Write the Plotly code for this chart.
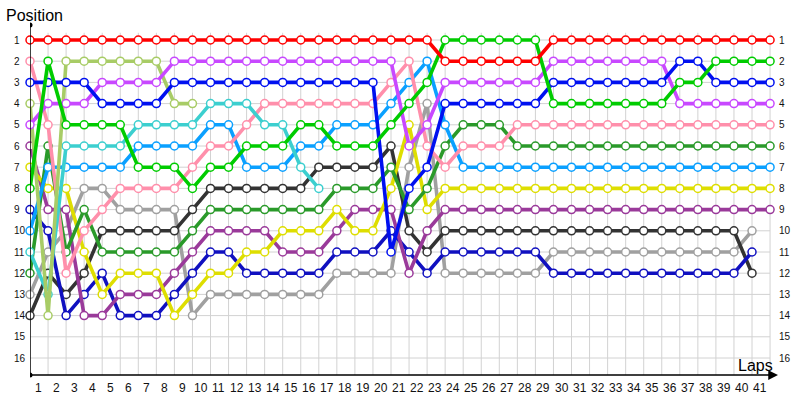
import plotly.graph_objects as go

# ---- data (position per lap, lap 0 = grid) ----
laps_all = list(range(0, 42))
lap_labels = [str(i) for i in range(1, 42)]
pos_labels = [str(i) for i in range(1, 17)]

red = [1, 1, 1, 1, 1, 1, 1, 1, 1, 1, 1, 1, 1, 1, 1, 1, 1, 1, 1, 1, 1, 1, 1,
       2, 2, 2, 2, 2, 2,
       1, 1, 1, 1, 1, 1, 1, 1, 1, 1, 1, 1, 1]
purple = [5, 4, 4, 4, 3, 3, 3, 3, 2, 2, 2, 2, 2, 2, 2, 2, 2, 2, 2, 2, 2, 6, 5,
          3, 3, 3, 3, 3, 3, 2, 2, 2, 2, 2, 2, 2, 4, 4, 4, 4, 4, 4]
blue = [3, 3, 3, 3, 4, 4, 4, 4, 3, 3, 3, 3, 3, 3, 3, 3, 3, 3, 3, 3, 11, 8, 7,
        4, 4, 4, 4, 4, 4, 3, 3, 3, 3, 3, 3, 3, 2, 2, 3, 3, 3, 3]
green = [8, 2, 5, 5, 5, 5, 7, 7, 7, 8, 7, 7, 6, 6, 6, 5, 5, 6, 6, 6, 5, 4, 3,
         1, 1, 1, 1, 1, 1, 4, 4, 4, 4, 4, 4, 4, 3, 3, 2, 2, 2, 2]
pink = [2, 5, 12, 10, 9, 8, 8, 8, 8, 7, 6, 6, 5, 4, 4, 4, 4, 4, 4, 4, 3, 2, 6,
        7, 6, 6, 6, 5, 5, 5, 5, 5, 5, 5, 5, 5, 5, 5, 5, 5, 5, 5]
dkgreen = [12, 6, 11, 9, 11, 11, 11, 11, 11, 10, 9, 9, 9, 9, 9, 9, 9, 8, 8, 8, 7, 9, 8,
           6, 5, 5, 5, 6, 6, 6, 6, 6, 6, 6, 6, 6, 6, 6, 6, 6, 6, 6]
sky = [10, 7, 7, 7, 7, 7, 6, 6, 6, 6, 5, 5, 7, 7, 7, 6, 6, 5, 5, 5, 4, 3, 2,
       5, 7, 7, 7, 7, 7, 7, 7, 7, 7, 7, 7, 7, 7, 7, 7, 7, 7, 7]
yellow = [7, 8, 8, 11, 13, 12, 12, 12, 14, 13, 12, 12, 11, 11, 10, 10, 10, 9, 10, 10, 8, 5, 9,
          8, 8, 8, 8, 8, 8, 8, 8, 8, 8, 8, 8, 8, 8, 8, 8, 8, 8, 8]
dkpurple = [6, 9, 9, 14, 14, 13, 13, 13, 12, 11, 10, 10, 10, 10, 11, 11, 11, 10, 9, 9, 9, 12, 10,
            9, 9, 9, 9, 9, 9, 9, 9, 9, 9, 9, 9, 9, 9, 9, 9, 9, 9, 9]
black = [14, 12, 13, 12, 10, 10, 10, 10, 10, 9, 8, 8, 8, 8, 8, 8, 7, 7, 7, 7, 6, 10, 11,
         10, 10, 10, 10, 10, 10, 10, 10, 10, 10, 10, 10, 10, 10, 10, 10, 10, 12]
gray = [13, 11, 10, 8, 8, 9, 9, 9, 9, 14, 13, 13, 13, 13, 13, 13, 13, 12, 12, 12, 12, 7, 4,
        12, 12, 12, 12, 12, 12, 11, 11, 11, 11, 11, 11, 11, 11, 11, 11, 11, 10]
dkblue = [9, 10, 14, 13, 12, 14, 14, 14, 13, 12, 11, 11, 12, 12, 12, 12, 12, 11, 11, 11, 10, 11, 12,
          11, 11, 11, 11, 11, 11, 12, 12, 12, 12, 12, 12, 12, 12, 12, 12, 12, 11]
olive = [4, 14, 2, 2, 2, 2, 2, 2, 4, 4]
cyan = [11, 13, 6, 6, 6, 6, 5, 5, 5, 5, 4, 4, 4, 5, 5, 7, 8]

series = [
    ("gray", gray, "#a0a0a0"),
    ("black", black, "#333333"),
    ("dkblue", dkblue, "#1010c0"),
    ("dkpurple", dkpurple, "#9a3a9a"),
    ("yellow", yellow, "#dede00"),
    ("dkgreen", dkgreen, "#2a9a2a"),
    ("sky", sky, "#0aa0ff"),
    ("pink", pink, "#ff8fab"),
    ("cyan", cyan, "#3ccfcf"),
    ("olive", olive, "#a8cc66"),
    ("purple", purple, "#c848ff"),
    ("blue", blue, "#0010f0"),
    ("green", green, "#00cc00"),
    ("red", red, "#ff0000"),
]

X_MAX = 41.44
Y_TOP = 0.2925
Y_BOT = 16.802
FONT = "Liberation Sans, Arial, sans-serif"

fig = go.Figure()

for name, vals, col in series:
    fig.add_trace(go.Scatter(
        x=laps_all[:len(vals)], y=vals, mode="lines+markers", name=name,
        line=dict(color=col, width=3.6),
        marker=dict(symbol="circle", size=8, color="white",
                    line=dict(color=col, width=1.5)),
        cliponaxis=False, hoverinfo="skip", showlegend=False,
    ))

shapes = []
# vertical grid
for k in range(1, 42):
    shapes.append(dict(type="line", xref="x", yref="y", x0=k, x1=k, y0=0.66, y1=Y_BOT,
                       line=dict(color="#d2d2d2", width=1), layer="below"))
# horizontal grid
for p in range(1, 17):
    shapes.append(dict(type="line", xref="x", yref="y", x0=0, x1=41, y0=p, y1=p,
                       line=dict(color="#d2d2d2", width=1), layer="below"))
# y axis line
shapes.append(dict(type="line", xref="x", yref="paper", x0=0, x1=0, y0=0, y1=1,
                   line=dict(color="black", width=1.5), layer="above"))
# dots at axis ends
for yp in (0, 1):
    shapes.append(dict(type="circle", xref="x", yref="paper", xsizemode="pixel",
                       ysizemode="pixel", xanchor=0, yanchor=yp,
                       x0=-2.5, x1=2.5, y0=-2.5, y1=2.5,
                       fillcolor="black", line=dict(color="black", width=0)))

annotations = []
# x axis arrow
annotations.append(dict(x=X_MAX, y=Y_BOT, ax=0, ay=Y_BOT, xref="x", yref="y",
                        axref="x", ayref="y", text="", showarrow=True,
                        arrowhead=2, arrowsize=1.3, arrowwidth=1.5,
                        arrowcolor="black", standoff=0, startstandoff=0))
# lap labels
for i, t in enumerate(lap_labels):
    annotations.append(dict(x=i + 1, y=0, xref="x", yref="paper", text=t,
                            showarrow=False, xanchor="center", yanchor="top",
                            xshift=-10, yshift=-4,
                            font=dict(family=FONT, size=12, color="#111")))
# left and right position labels
for i, t in enumerate(pos_labels):
    annotations.append(dict(x=0, y=i + 1, xref="paper", yref="y", text=t,
                            showarrow=False, xanchor="left", yanchor="middle",
                            xshift=-18, font=dict(family=FONT, size=10, color="#111")))
    annotations.append(dict(x=1, y=i + 1, xref="paper", yref="y", text=t,
                            showarrow=False, xanchor="left", yanchor="middle",
                            xshift=-1, font=dict(family=FONT, size=10, color="#111")))
# titles
annotations.append(dict(x=0, y=1, xref="paper", yref="paper", text="Position",
                        showarrow=False, xanchor="left", yanchor="middle",
                        xshift=-26, yshift=10,
                        font=dict(family=FONT, size=16, color="black")))
annotations.append(dict(x=1, y=0, xref="paper", yref="paper", text="Laps",
                        showarrow=False, xanchor="right", yanchor="middle",
                        xshift=-3, yshift=10,
                        font=dict(family=FONT, size=16, color="black")))

fig.update_layout(
    width=800, height=400,
    margin=dict(l=30, r=22, t=25, b=25),
    paper_bgcolor="white", plot_bgcolor="white",
    xaxis=dict(range=[0, X_MAX], showgrid=False, zeroline=False,
               showticklabels=False, showline=False, fixedrange=True),
    yaxis=dict(range=[Y_BOT, Y_TOP], showgrid=False, zeroline=False,
               showticklabels=False, showline=False, fixedrange=True),
    shapes=shapes, annotations=annotations, showlegend=False,
)

fig.write_html("out.html", config={"displayModeBar": False},
               post_script="document.body.style.margin='0';document.body.style.overflow='hidden';")
